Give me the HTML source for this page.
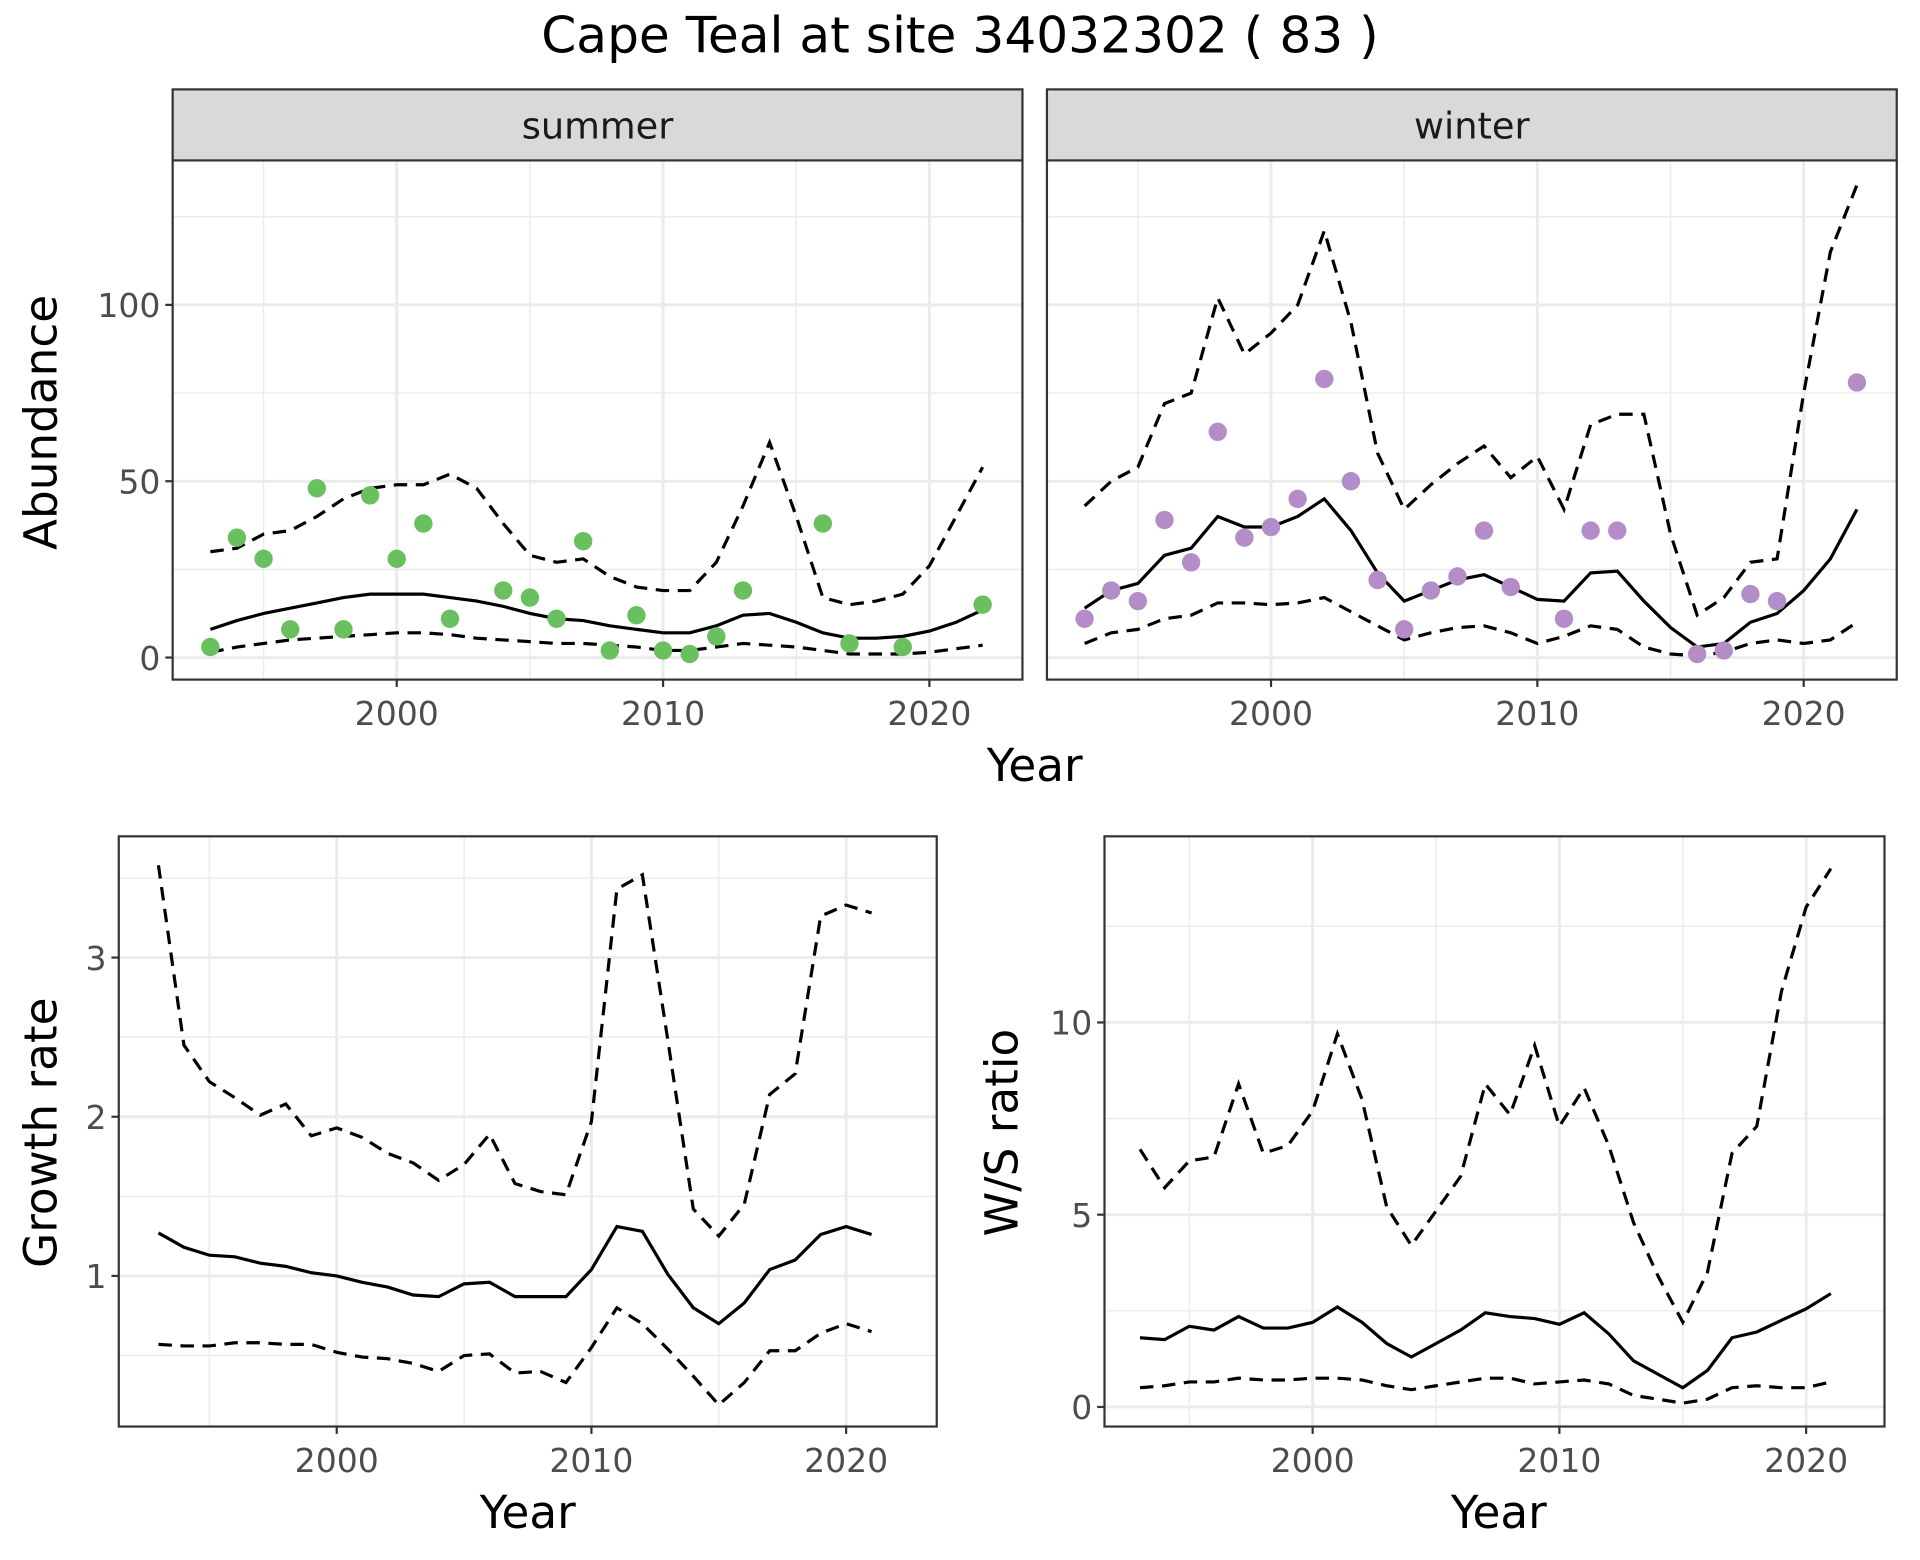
<!DOCTYPE html>
<html><head><meta charset="utf-8"><style>
html,body{margin:0;padding:0;background:#fff}
svg{display:block;font-family:"DejaVu Sans","Liberation Sans",sans-serif}
</style></head><body>
<svg id="c" width="1920" height="1560" viewBox="0 0 1568 1274" preserveAspectRatio="none" xmlns="http://www.w3.org/2000/svg">
<text x="784" y="43" font-size="41" text-anchor="middle" fill="#000">Cape Teal at site 34032302 ( 83 )</text>
</svg>
<script>
const years=[1993,1994,1995,1996,1997,1998,1999,2000,2001,2002,2003,2004,2005,2006,2007,2008,2009,2010,2011,2012,2013,2014,2015,2016,2017,2018,2019,2020,2021,2022];
const gYears=years.slice(0,29);
const sumPtYears=[1993,1994,1995,1996,1997,1998,1999,2000,2001,2002,2004,2005,2006,2007,2008,2009,2010,2011,2012,2013,2016,2017,2019,2022];
const sumPtVals=[3,34,28,8,48,8,46,28,38,11,19,17,11,33,2,12,2,1,6,19,38,4,3,15];
const sumMean=[8,10.5,12.5,14,15.5,17,18,18,18,17,16,14.5,12.5,11,10.5,9,8,7,7,9,12,12.5,10,7,5.5,5.5,6,7.5,10,13.5];
const sumUpper=[30,31,35,36,40,45,48,49,49,52,48,38,29,27,28,23,20,19,19,27,43,61,40,17,15,16,18,26,40,54];
const sumLower=[1.5,3,4,5,5.5,6,6.5,7,7,6.5,5.5,5,4.5,4,4,3.5,3,2,2,3,4,3.5,3,2,1,1,1,1.5,2.5,3.5];
const winPtYears=[1993,1994,1995,1996,1997,1998,1999,2000,2001,2002,2003,2004,2005,2006,2007,2008,2009,2011,2012,2013,2016,2017,2018,2019,2022];
const winPtVals=[11,19,16,39,27,64,34,37,45,79,50,22,8,19,23,36,20,11,36,36,1,2,18,16,78];
const winMean=[14,19,21,29,31,40,37,37,40,45,36,24,16,19,22,23.5,20,16.5,16,24,24.5,16,8.5,3,4,10,12.5,19,28,42];
const winUpper=[43,50,54,72,75,102,86,92,100,121,95,58,42,49,55,60,51,57,42,66,69,69,35,12,17,27,28,75,115,134];
const winLower=[4,7,8,11,12,15.5,15.5,15,15.5,17,13,9,5,7,8.5,9,7,4,6,9,8,3,1,0.5,1.5,4,5,4,5,10];
const grMean=[1.27,1.18,1.13,1.12,1.08,1.06,1.02,1.00,0.96,0.93,0.88,0.87,0.95,0.96,0.87,0.87,0.87,1.04,1.31,1.28,1.01,0.80,0.70,0.83,1.04,1.10,1.26,1.31,1.26];
const grUpper=[3.58,2.45,2.22,2.12,2.01,2.08,1.88,1.93,1.87,1.77,1.71,1.60,1.70,1.89,1.58,1.53,1.51,1.97,3.43,3.52,2.48,1.42,1.25,1.45,2.14,2.27,3.26,3.33,3.28];
const grLower=[0.57,0.56,0.56,0.58,0.58,0.57,0.57,0.52,0.49,0.48,0.45,0.40,0.50,0.51,0.39,0.40,0.33,0.55,0.80,0.70,0.54,0.37,0.19,0.33,0.53,0.53,0.64,0.70,0.65];
const wsMean=[1.8,1.75,2.1,2.0,2.35,2.05,2.05,2.2,2.6,2.2,1.65,1.3,1.65,2.0,2.45,2.35,2.3,2.15,2.45,1.9,1.2,0.85,0.5,0.95,1.8,1.95,2.25,2.55,2.95];
const wsUpper=[6.7,5.7,6.4,6.5,8.4,6.6,6.8,7.7,9.7,8.0,5.2,4.2,5.1,6.0,8.4,7.6,9.4,7.3,8.3,6.8,4.8,3.4,2.2,3.5,6.6,7.3,10.8,13.0,14.0];
const wsLower=[0.5,0.55,0.65,0.65,0.75,0.7,0.7,0.75,0.75,0.7,0.55,0.45,0.55,0.65,0.75,0.75,0.6,0.65,0.7,0.6,0.3,0.2,0.1,0.2,0.5,0.55,0.5,0.5,0.65];
const xTicks=[2000,2010,2020], xMinor=[1995,2005,2015];

const svg=document.getElementById('c');
const NS='http://www.w3.org/2000/svg';
function el(t,a,p){const e=document.createElementNS(NS,t);for(const k in a)e.setAttribute(k,a[k]);(p||svg).appendChild(e);return e;}
function lin(d0,d1,r0,r1){return v=>r0+(v-d0)*(r1-r0)/(d1-d0);}

function panel(o){
  const g=el('g',{});
  
  
  const {x0,x1,y0,y1,X,Y}=o;
  el('rect',{x:x0,y:y0,width:x1-x0,height:y1-y0,fill:'#fff'},g);
  o.yMinor.forEach(v=>el('line',{x1:x0,x2:x1,y1:Y(v),y2:Y(v),stroke:'#ebebeb','stroke-width':1.2},g));
  xMinor.forEach(v=>el('line',{x1:X(v),x2:X(v),y1:y0,y2:y1,stroke:'#ebebeb','stroke-width':1.2},g));
  o.yTicks.forEach(v=>el('line',{x1:x0,x2:x1,y1:Y(v),y2:Y(v),stroke:'#ebebeb','stroke-width':2.4},g));
  xTicks.forEach(v=>el('line',{x1:X(v),x2:X(v),y1:y0,y2:y1,stroke:'#ebebeb','stroke-width':2.4},g));
  const path=(xs,vs,dash,nm)=>{const p=el('path',{d:vs.map((v,i)=>(i?'L':'M')+X(xs[i]).toFixed(1)+','+Y(v).toFixed(1)).join(''),fill:'none',stroke:'#000','stroke-width':2.6,'stroke-dasharray':dash?'11,7':'none'},g);
    
    };
  path(o.xs,o.upper,true,'upper-bound-line');
  path(o.xs,o.lower,true,'lower-bound-line');
  path(o.xs,o.mean,false,'mean-line');
  if(o.pts){o.pts.forEach((v,i)=>{const c=el('circle',{cx:X(o.ptx[i]),cy:Y(v),r:7.5,fill:o.col},g);
    
    });}
  el('rect',{x:x0,y:y0,width:x1-x0,height:y1-y0,fill:'none',stroke:'#333','stroke-width':1.8},g);
  if(o.showY) o.yTicks.forEach(v=>{el('line',{x1:x0-6,x2:x0,y1:Y(v),y2:Y(v),stroke:'#333','stroke-width':1.8},g);
    const t=el('text',{x:x0-10,y:Y(v)+10,'font-size':27,'text-anchor':'end',fill:'#4d4d4d'},g);t.textContent=v;
    });
  xTicks.forEach(v=>{el('line',{x1:X(v),x2:X(v),y1:y1,y2:y1+6,stroke:'#333','stroke-width':1.8},g);
    const t=el('text',{x:X(v),y:y1+37,'font-size':27,'text-anchor':'middle',fill:'#4d4d4d'},g);t.textContent=v;
    });
  if(o.strip){const s=el('rect',{x:x0,y:73,width:x1-x0,height:y0-73,fill:'#d9d9d9',stroke:'#333','stroke-width':1.8},g);
    
    const t=el('text',{x:(x0+x1)/2,y:113,'font-size':30,'text-anchor':'middle',fill:'#1a1a1a'},g);t.textContent=o.strip;
    }
}
function title(txt,x,y,rot,nm){const t=el('text',{x:x,y:y,'font-size':37,'text-anchor':'middle',fill:'#000',transform:rot?`rotate(-90 ${x} ${y})`:''});t.textContent=txt;
  }

const Ya=lin(0,100,537,249);
panel({name:'summer-panel',x0:141,x1:835,y0:131,y1:555,X:lin(2000,2020,324,759),Y:Ya,yTicks:[0,50,100],yMinor:[25,75,125],xs:years,mean:sumMean,upper:sumUpper,lower:sumLower,pts:sumPtVals,ptx:sumPtYears,col:'#6abf5e',showY:true,strip:'summer'});
panel({name:'winter-panel',x0:855,x1:1549,y0:131,y1:555,X:lin(2000,2020,1038,1473),Y:Ya,yTicks:[0,50,100],yMinor:[25,75,125],xs:years,mean:winMean,upper:winUpper,lower:winLower,pts:winPtVals,ptx:winPtYears,col:'#b48cc8',showY:false,strip:'winter'});
panel({name:'growth-rate-panel',x0:97,x1:765,y0:683,y1:1165,X:lin(2000,2020,275,691),Y:lin(1,3,1042,782),yTicks:[1,2,3],yMinor:[0.5,1.5,2.5,3.5],xs:gYears,mean:grMean,upper:grUpper,lower:grLower,showY:true});
panel({name:'ws-ratio-panel',x0:902,x1:1539,y0:683,y1:1165,X:lin(2000,2020,1072,1475),Y:lin(0,10,1149,835),yTicks:[0,5,10],yMinor:[2.5,7.5,12.5],xs:gYears,mean:wsMean,upper:wsUpper,lower:wsLower,showY:true});
title('Abundance',46,345,true,'y-axis-title-abundance');
title('Year',845,638,false,'x-axis-title-top');
title('Growth rate',46,925,true,'y-axis-title-growth');
title('W/S ratio',831,925,true,'y-axis-title-ws');
title('Year',431,1248,false,'x-axis-title-growth');
title('Year',1224,1248,false,'x-axis-title-ws');
</script>
</body></html>
